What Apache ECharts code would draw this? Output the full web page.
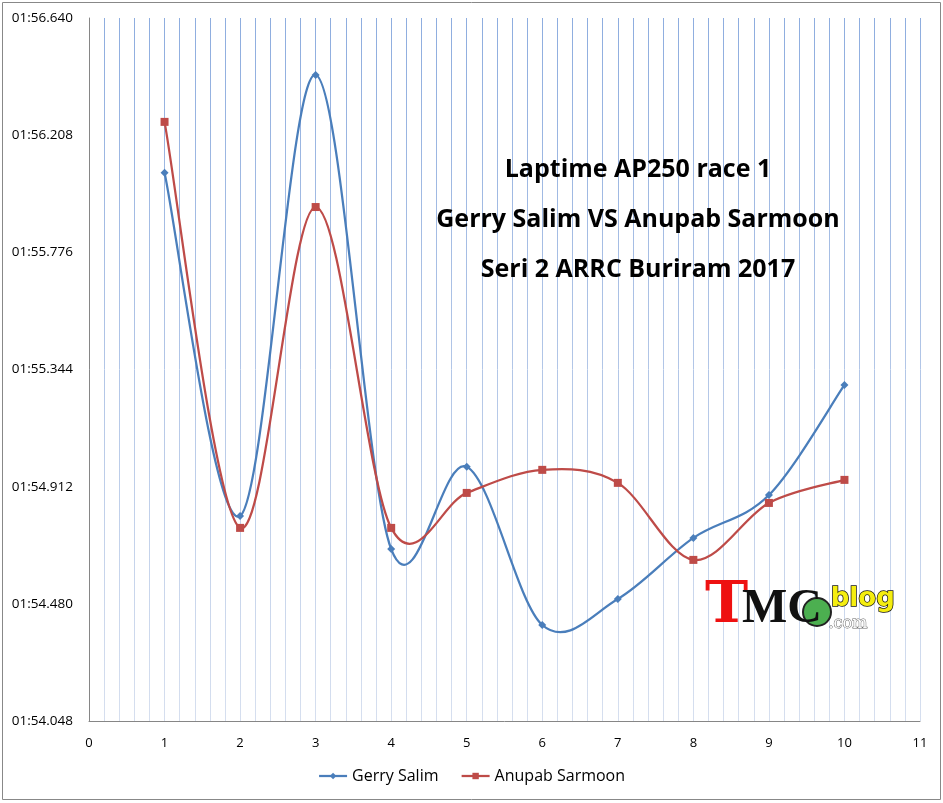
<!DOCTYPE html>
<html>
<head>
<meta charset="utf-8">
<script src="https://cdn.jsdelivr.net/npm/echarts@6/dist/echarts.min.js"></script>
<style>html,body{margin:0;padding:0;background:#fff}#c{width:943px;height:803px}</style>
</head>
<body>
<div id="c"></div>
<script>
// lap times in milliseconds (01:56.640 = 116640)
const laps = [1, 2, 3, 4, 5, 6, 7, 8, 9, 10];
const gerry = [116069, 114804, 116430, 114682, 114985, 114402, 114498, 114723, 114881, 115287];
const anupab = [116257, 114760, 115943, 114760, 114889, 114974, 114926, 114642, 114852, 114937];
const yMin = 114048, yMax = 116640, yStep = 432;
const titleLines = ['Laptime AP250 race 1', 'Gerry Salim VS Anupab Sarmoon', 'Seri 2 ARRC Buriram 2017'];

const BLUE = '#4a7ebb', RED = '#be4b48';

function fmt(ms) {
  const m = Math.floor(ms / 60000);
  const s = (ms - m * 60000) / 1000;
  return String(m).padStart(2, '0') + ':' + s.toFixed(3).padStart(6, '0');
}

// Excel-style smoothed curve (Catmull-Rom bezier) drawn through the axis scales
function curveSeries(vals, color) {
  return {
    type: 'custom', z: 2, silent: true,
    data: laps.map((l, i) => [l, vals[i]]),
    encode: {x: 0, y: 1},
    renderItem: function (params, api) {
      if (params.dataIndex !== 0) return null;
      const p = laps.map((l, i) => api.coord([l, vals[i]]));
      const n = p.length;
      let d = 'M' + p[0][0] + ' ' + p[0][1];
      for (let i = 0; i < n - 1; i++) {
        const p0 = p[Math.max(i - 1, 0)], p1 = p[i], p2 = p[i + 1], p3 = p[Math.min(i + 2, n - 1)];
        const c1x = p1[0] + (p2[0] - p0[0]) / 6, c1y = p1[1] + (p2[1] - p0[1]) / 6;
        const c2x = p2[0] - (p3[0] - p1[0]) / 6, c2y = p2[1] - (p3[1] - p1[1]) / 6;
        d += ' C' + c1x + ' ' + c1y + ' ' + c2x + ' ' + c2y + ' ' + p2[0] + ' ' + p2[1];
      }
      return {type: 'path', shape: {pathData: d}, style: {fill: 'none', stroke: color, lineWidth: 2.25}};
    }
  };
}

const chart = echarts.init(document.getElementById('c'));
const gridColor = {
  type: 'linear', x: 0, y: 18, x2: 0, y2: 721, global: true,
  colorStops: [{offset: 0, color: '#8eaddf'}, {offset: 1, color: '#d6dfef'}]
};
chart.setOption({
  animation: false,
  backgroundColor: '#fff',
  title: {
    text: titleLines.join('\n'),
    left: 633, top: 140, textAlign: 'center',
    textStyle: {fontFamily: 'Open Sans', fontWeight: 'bold', fontSize: 25, lineHeight: 50, color: '#000'}
  },
  legend: {
    bottom: 14, left: 'center', itemWidth: 28, itemHeight: 8, itemGap: 22,
    textStyle: {fontFamily: 'Open Sans', fontSize: 16, color: '#000'},
    data: [
      {name: 'Gerry Salim', lineStyle: {color: BLUE, width: 2.25, opacity: 1}},
      {name: 'Anupab Sarmoon', lineStyle: {color: RED, width: 2.25, opacity: 1}}
    ]
  },
  grid: {left: 89, right: 23, top: 18, bottom: 82},
  xAxis: {
    type: 'value', min: 0, max: 11, interval: 1,
    axisLine: {show: true, lineStyle: {color: '#868686', width: 1}},
    axisTick: {show: false},
    axisLabel: {fontFamily: 'Open Sans', fontSize: 13, color: '#000', margin: 16},
    splitLine: {show: true, lineStyle: {color: gridColor, width: 1}},
    minorTick: {show: false, splitNumber: 5},
    minorSplitLine: {show: true, lineStyle: {color: gridColor, width: 1}}
  },
  yAxis: {
    type: 'value', min: yMin, max: yMax, interval: yStep,
    axisLine: {show: true, lineStyle: {color: '#868686', width: 1}},
    axisTick: {show: false},
    splitLine: {show: false},
    axisLabel: {fontFamily: 'Open Sans', fontSize: 13.5, color: '#000', margin: 16, formatter: fmt}
  },
  series: [
    {
      name: 'Gerry Salim', type: 'line', z: 3,
      data: laps.map((l, i) => [l, gerry[i]]),
      symbol: 'diamond', symbolSize: 8,
      lineStyle: {color: BLUE, width: 2.25, opacity: 0},
      itemStyle: {color: BLUE}
    },
    {
      name: 'Anupab Sarmoon', type: 'line', z: 3,
      data: laps.map((l, i) => [l, anupab[i]]),
      symbol: 'rect', symbolSize: 8,
      lineStyle: {color: RED, width: 2.25, opacity: 0},
      itemStyle: {color: RED}
    },
    curveSeries(gerry, BLUE),
    curveSeries(anupab, RED)
  ],
  graphic: [
    {type: 'rect', shape: {x: 2.5, y: 2.5, width: 938, height: 797}, style: {fill: 'none', stroke: '#888', lineWidth: 1}, z: 100},
    {type: 'text', left: 705, top: 578, style: {text: 'T', fill: '#ee1111', font: 'bold 58px "DejaVu Serif"'}, z: 100},
    {type: 'text', left: 742, top: 586, style: {text: 'MC', fill: '#111', font: 'bold 48px "Liberation Serif"'}, z: 100},
    {type: 'circle', shape: {cx: 817, cy: 612, r: 14}, style: {fill: '#4caf50', stroke: '#222', lineWidth: 2}, z: 99},
    {type: 'text', left: 830, top: 585, style: {text: 'blog', fill: '#f5ee10', stroke: '#111', lineWidth: 1.5, font: 'bold 26px "DejaVu Sans"'}, z: 100},
    {type: 'text', left: 828, top: 615, style: {text: '.com', fill: '#fff', stroke: '#666', lineWidth: 1, font: '16px "DejaVu Serif"'}, z: 100}
  ]
});
</script>
</body>
</html>
